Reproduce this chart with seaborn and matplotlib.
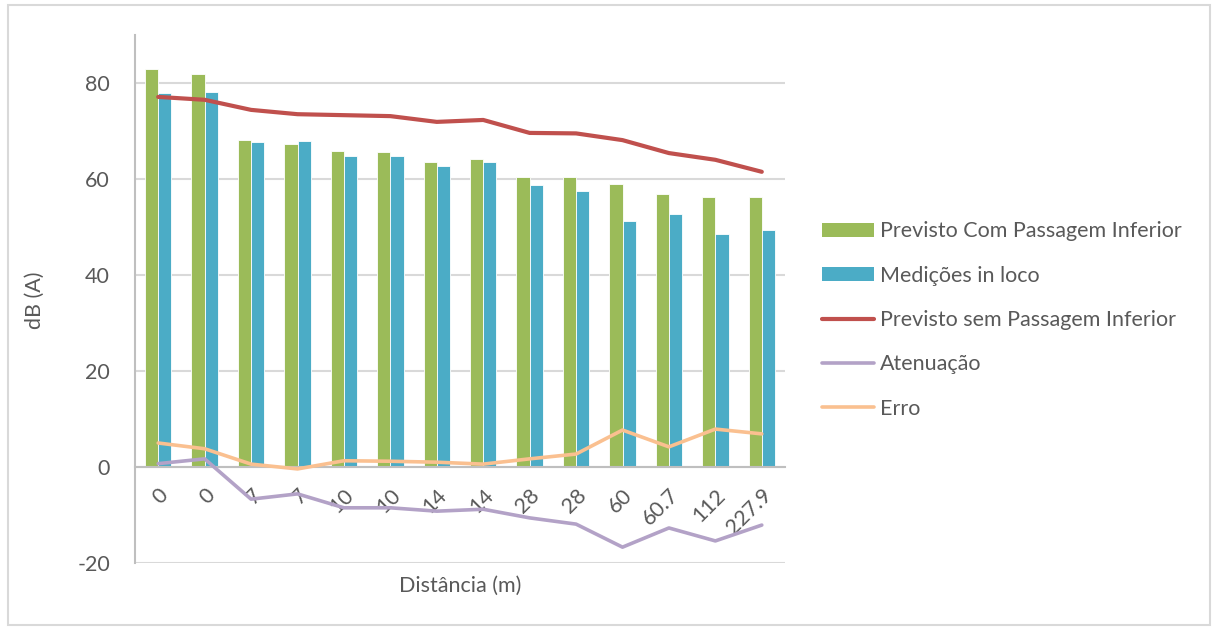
import numpy as np
import pandas as pd
import matplotlib
matplotlib.use("Agg")
import matplotlib.pyplot as plt
import seaborn as sns
from matplotlib.patches import Rectangle, Patch
from matplotlib.lines import Line2D

# ---- data ----
distancias = ["0", "0", "7", "7", "10", "10", "14", "14", "28", "28", "60", "60.7", "112", "227.9"]
previsto_com = [82.9, 81.9, 68.1, 67.3, 65.8, 65.6, 63.5, 64.2, 60.4, 60.4, 59.0, 56.9, 56.3, 56.3]
medicoes = [77.9, 78.1, 67.7, 67.9, 64.8, 64.8, 62.7, 63.5, 58.7, 57.5, 51.3, 52.7, 48.5, 49.4]
previsto_sem = [77.1, 76.5, 74.4, 73.5, 73.3, 73.1, 71.9, 72.3, 69.6, 69.5, 68.1, 65.4, 64.0, 61.5]
atenuacao = [0.7, 1.7, -6.7, -5.6, -8.5, -8.5, -9.2, -8.8, -10.6, -11.9, -16.7, -12.7, -15.4, -12.1]
erro = [5.0, 3.8, 0.6, -0.4, 1.3, 1.2, 1.0, 0.6, 1.7, 2.7, 7.7, 4.2, 7.9, 6.9]

serie_barras = ["Previsto Com Passagem Inferior", "Medições in loco"]
serie_linhas = ["Previsto sem Passagem Inferior", "Atenuação", "Erro"]

cor_verde = "#9BBB59"
cor_azul = "#4BACC6"
cor_verm = "#C0504D"
cor_roxo = "#B3A2C7"
cor_lar = "#FAC090"
txt = "#595959"
fs = 15.5

pos = list(range(len(distancias)))
df_bar = pd.DataFrame({
    "pos": pos * 2,
    "valor": previsto_com + medicoes,
    "serie": [serie_barras[0]] * len(pos) + [serie_barras[1]] * len(pos),
})
df_lin = pd.DataFrame({
    "pos": pos * 3,
    "valor": previsto_sem + atenuacao + erro,
    "serie": [serie_linhas[0]] * len(pos) + [serie_linhas[1]] * len(pos) + [serie_linhas[2]] * len(pos),
})

sns.set_theme(style="white")
plt.rcParams["font.family"] = ["Lato", "DejaVu Sans"]
plt.rcParams["axes.unicode_minus"] = False

fig = plt.figure(figsize=(12.16, 6.30), dpi=100)
ax = fig.add_axes([135 / 1216, 1 - 563 / 630, 650 / 1216, 528 / 630])

sns.barplot(data=df_bar, x="pos", y="valor", hue="serie", hue_order=serie_barras,
            palette=[cor_verde, cor_azul], saturation=1, width=0.57, gap=0, ax=ax,
            edgecolor="#FFFFFF", linewidth=0.6, legend=False, errorbar=None, zorder=2)

for nome, cor, lw in zip(serie_linhas, [cor_verm, cor_roxo, cor_lar], [3.0, 2.6, 2.6]):
    sub = df_lin[df_lin["serie"] == nome]
    sns.lineplot(data=sub, x="pos", y="valor", color=cor, linewidth=lw, ax=ax,
                 legend=False, zorder=4, errorbar=None)

ax.set_xlim(-0.5, len(pos) - 0.5)
ax.set_ylim(-20, 90)
ax.set_yticks([-20, 0, 20, 40, 60, 80])
ax.yaxis.grid(True, color="#D9D9D9", linewidth=1.5)
ax.xaxis.grid(False)
ax.set_axisbelow(True)

for s in ["top", "right"]:
    ax.spines[s].set_visible(False)
ax.spines["left"].set_color("#BFBFBF")
ax.spines["left"].set_linewidth(1.5)
ax.spines["bottom"].set_color("#BFBFBF")
ax.spines["bottom"].set_linewidth(1.5)
ax.spines["bottom"].set_position(("data", 0))
ax.spines["bottom"].set_zorder(3)

ax.set_xticks(pos)
ax.set_xticklabels(distancias, rotation=45, ha="right", va="top", rotation_mode="anchor")
ax.tick_params(axis="x", length=0, pad=13, labelsize=fs, labelcolor=txt)
ax.tick_params(axis="y", length=0, pad=18, labelsize=fs, labelcolor=txt)

ax.set_xlabel("")
ax.set_ylabel("")
fig.text(460 / 1216, 1 - 586 / 630, "Distância (m)", ha="center", va="center", fontsize=fs, color=txt)
fig.text(35 / 1216, 1 - 300 / 630, "dB (A)", ha="center", va="center", rotation=90, fontsize=fs, color=txt)

handles = [
    Patch(facecolor=cor_verde, edgecolor="none"),
    Patch(facecolor=cor_azul, edgecolor="none"),
    Line2D([], [], color=cor_verm, linewidth=3.0),
    Line2D([], [], color=cor_roxo, linewidth=2.6),
    Line2D([], [], color=cor_lar, linewidth=2.6),
]
leg = fig.legend(handles, serie_barras + serie_linhas, loc="center left",
                 bbox_to_anchor=(822 / 1216, 1 - 320 / 630), frameon=False,
                 fontsize=fs, handlelength=2.4, handleheight=0.65, handletextpad=0.3,
                 labelspacing=1.13, borderaxespad=0, borderpad=0)
for t in leg.get_texts():
    t.set_color(txt)

fig.patches.append(Rectangle((8 / 1216, 5 / 630), 1202 / 1216, 620 / 630,
                             transform=fig.transFigure, fill=False,
                             edgecolor="#D9D9D9", linewidth=1.5))

fig.savefig("out.png", dpi=100, facecolor="white")
